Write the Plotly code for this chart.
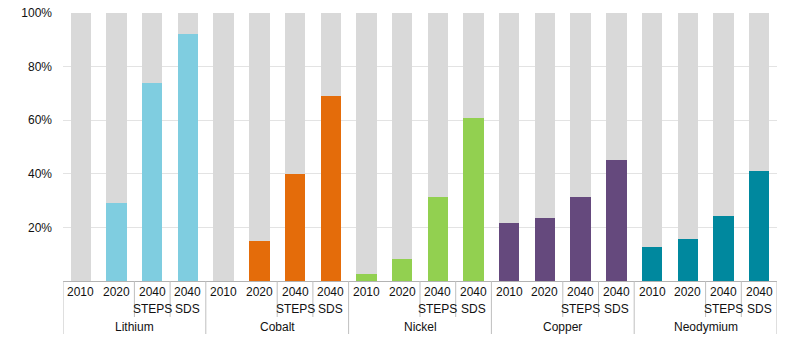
import plotly.graph_objects as go

# Share of each mineral's demand (percent) by period
minerals = ["Lithium", "Cobalt", "Nickel", "Copper", "Neodymium"]
period_years = ["2010", "2020", "2040", "2040"]
period_scenarios = ["", "", "STEPS", "SDS"]

lithium = [0, 29, 74, 92]
cobalt = [0, 15, 40, 69]
nickel = [2.6, 8.2, 31.5, 61]
copper = [21.6, 23.6, 31.5, 45]
neodymium = [12.8, 15.7, 24.4, 41]

mineral_colors = ["#7fcde0", "#e46c0a", "#92d050", "#65497d", "#00889e"]
rest_color = "#d9d9d9"

series = [lithium, cobalt, nickel, copper, neodymium]

keys, shares, colors = [], [], []
for m, vals, col in zip(minerals, series, mineral_colors):
    for y, s, v in zip(period_years, period_scenarios, vals):
        keys.append(f"{m} {y} {s}".strip())
        shares.append(v)
        colors.append(col)
remainder = [100 - v for v in shares]

FONT = "Arial, Liberation Sans, Helvetica, sans-serif"

fig = go.Figure()
fig.add_trace(go.Bar(x=keys, y=shares, marker=dict(color=colors, line=dict(width=0)),
                     hoverinfo="x+y"))
fig.add_trace(go.Bar(x=keys, y=remainder, marker=dict(color=rest_color, line=dict(width=0)),
                     hoverinfo="skip"))

W, H = 793, 347
ml, mr, mt, mb = 63, 16, 13, 66
plot_h = H - mt - mb


def py(pix):
    """Pixel row (from top of page) to paper y coordinate."""
    return (H - mb - pix) / plot_h


annotations = []
shapes = []
n_per = len(period_years)
label_font = dict(size=12, color="#111111", family=FONT)
for gi, m in enumerate(minerals):
    base = gi * n_per
    for j in range(n_per):
        idx = base + j
        annotations.append(dict(x=idx, y=py(291.5), xref="x", yref="paper",
                                text=period_years[j], showarrow=False, font=label_font,
                                xanchor="center", yanchor="middle"))
        if period_scenarios[j]:
            annotations.append(dict(x=idx, y=py(309), xref="x", yref="paper",
                                    text=period_scenarios[j], showarrow=False,
                                    font=label_font, xanchor="center", yanchor="middle"))
    annotations.append(dict(x=base + (n_per - 1) / 2, y=py(327), xref="x", yref="paper",
                            text=m, showarrow=False, font=label_font,
                            xanchor="center", yanchor="middle"))
    # group divider on the left of each mineral
    shapes.append(dict(type="line", xref="x", yref="paper", x0=base - 0.5, x1=base - 0.5,
                       y0=0, y1=py(334), line=dict(color="#bfbfbf", width=1)))
    # dividers between the later periods
    for k in (1.5, 2.5):
        shapes.append(dict(type="line", xref="x", yref="paper", x0=base + k, x1=base + k,
                           y0=0, y1=py(317), line=dict(color="#bfbfbf", width=1)))
last = len(keys) - 0.5
shapes.append(dict(type="line", xref="x", yref="paper", x0=last, x1=last,
                   y0=0, y1=py(334), line=dict(color="#bfbfbf", width=1)))

fig.update_layout(
    width=W, height=H,
    margin=dict(l=ml, r=mr, t=mt, b=mb, autoexpand=False),
    barmode="stack",
    bargap=0.43,
    showlegend=False,
    plot_bgcolor="white",
    paper_bgcolor="white",
    font=dict(family=FONT, size=12, color="#111111"),
    annotations=annotations,
    shapes=shapes,
    xaxis=dict(type="category", range=[-0.5, len(keys) - 0.5], showticklabels=False,
               ticks="", showgrid=False, showline=True, linecolor="#b3b3b3",
               linewidth=1, zeroline=False, fixedrange=True, automargin=False),
    yaxis=dict(range=[0, 100], tickvals=[20, 40, 60, 80, 100],
               ticktext=["20%", "40%", "60%", "80%", "100%"],
               showgrid=True, gridcolor="#e3e3e3", gridwidth=1,
               zeroline=False, showline=False, ticks="",
               tickfont=dict(size=12, color="#111111", family=FONT),
               ticklabelstandoff=10, fixedrange=True, automargin=False),
)

fig.write_html("out.html", config={"displayModeBar": False})
